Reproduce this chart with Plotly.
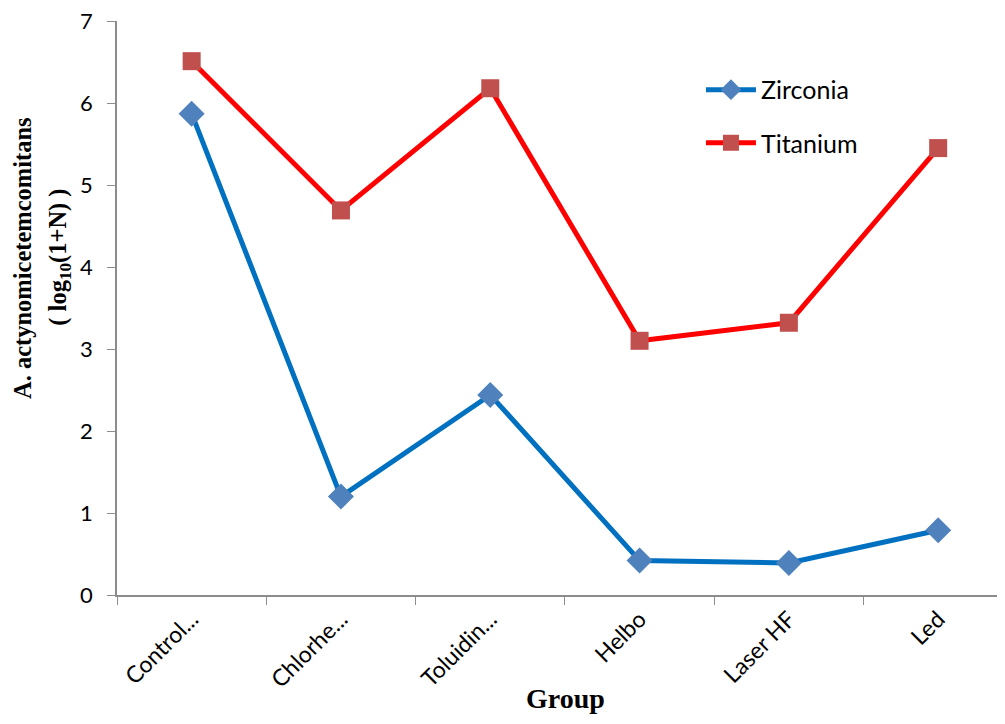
import plotly.graph_objects as go

groups = ["Control...", "Chlorhe...", "Toluidin...", "Helbo", "Laser HF", "Led"]
zirconia = [5.87, 1.20, 2.44, 0.42, 0.39, 0.79]
titanium = [6.51, 4.69, 6.18, 3.10, 3.32, 5.45]
y_ticks = [0, 1, 2, 3, 4, 5, 6, 7]

SANS = "Lato, Open Sans, sans-serif"
SERIF = "Liberation Serif, Times New Roman, serif"

fig = go.Figure()
fig.add_trace(go.Scatter(
    x=groups, y=zirconia, name="Zirconia", mode="lines+markers",
    line=dict(color="#0070C0", width=5),
    marker=dict(symbol="diamond", size=20, color="#4F81BD"),
    legend="legend",
))
fig.add_trace(go.Scatter(
    x=groups, y=titanium, name="Titanium", mode="lines+markers",
    line=dict(color="#FF0000", width=5),
    marker=dict(symbol="square", size=18, color="#C0504D"),
    legend="legend2",
))

legend_common = dict(
    xanchor="left", yanchor="top",
    font=dict(family=SANS, size=25, color="#000"),
    bgcolor="rgba(0,0,0,0)", itemwidth=50,
)

fig.update_layout(
    width=989, height=708,
    margin=dict(l=109, r=0, t=13, b=121, autoexpand=False),
    paper_bgcolor="white", plot_bgcolor="white",
    showlegend=True,
    legend=dict(x=0.6636, y=0.92, **legend_common),
    legend2=dict(x=0.6636, y=0.8275, **legend_common),
    xaxis=dict(
        type="category", range=[-0.5, 5.394],
        tickson="boundaries", ticks="outside", ticklen=8, tickcolor="#8c8c8c",
        showline=True, linecolor="#8c8c8c", linewidth=1.5,
        showgrid=False, zeroline=False, automargin=False,
        tickangle=-45, tickfont=dict(family=SANS, size=23, color="#000"),
    ),
    yaxis=dict(
        range=[0, 7], tickvals=y_ticks,
        ticks="outside", ticklen=8, tickcolor="#8c8c8c",
        showline=True, linecolor="#8c8c8c", linewidth=1.5,
        showgrid=False, zeroline=False, automargin=False,
        ticklabelstandoff=10, ticklabeloverflow="allow",
        tickfont=dict(family=SANS, size=22, color="#000"),
    ),
    annotations=[
        dict(text="<b>A. actynomicetemcomitans</b>", textangle=-90,
             xref="paper", yref="paper", x=-0.108, y=0.587,
             xanchor="center", yanchor="middle", showarrow=False,
             font=dict(family=SERIF, size=24.5, color="#000")),
        dict(text="<b>( log<sub>10</sub>(1+N) )</b>", textangle=-90,
             xref="paper", yref="paper", x=-0.065, y=0.589,
             xanchor="center", yanchor="middle", showarrow=False,
             font=dict(family=SERIF, size=24.5, color="#000")),
        dict(text="<b>Group</b>",
             xref="paper", yref="paper", x=0.510, y=-0.181,
             xanchor="center", yanchor="middle", showarrow=False,
             font=dict(family=SERIF, size=28, color="#000")),
    ],
)

fig.write_html("out.html")
